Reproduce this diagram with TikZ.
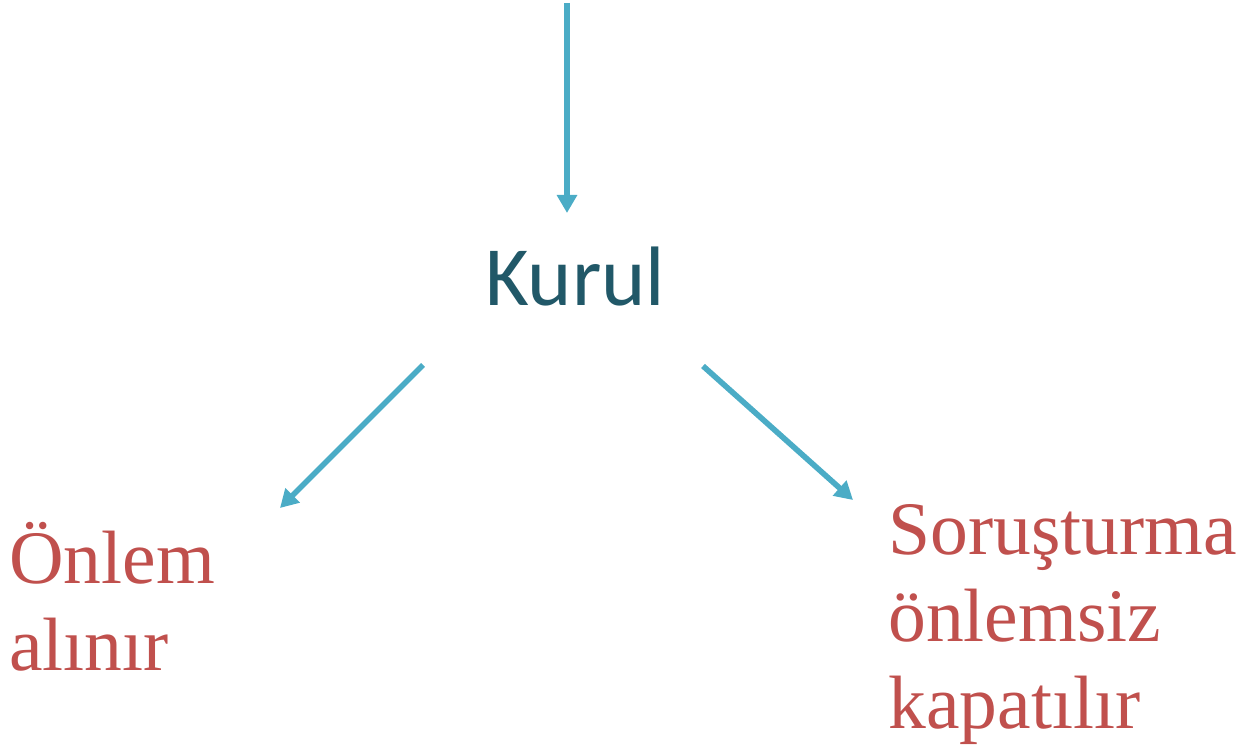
\documentclass[tikz,border=0pt]{standalone}
\usepackage{fontspec}
\setmainfont{Liberation Serif}
\newfontfamily\calfont{Carlito}
\usetikzlibrary{arrows.meta}
\definecolor{arrowblue}{HTML}{4BACC6}
\definecolor{darkteal}{HTML}{215868}
\definecolor{textred}{HTML}{C0504D}
\tikzset{
  flow/.style={arrowblue,line width=3.2pt,-{Triangle[length=3.6mm,width=3.9mm]}},
  outcome/.style={textred,inner sep=0pt,anchor=base west,align=left,
    font=\fontsize{43}{49.5}\selectfont}
}
\begin{document}
\begin{tikzpicture}
\useasboundingbox (0,0) rectangle (24.82,15);
% base anchor = baseline of the last line
\node [darkteal,inner sep=0pt,anchor=base west,font=\calfont\fontsize{48}{57}\selectfont] (kurul) at (9.70,8.88) {Kurul};
\node [outcome] (onlem) at (0.18,1.60) {Önlem\\alınır};
\node [outcome] (sorusturma) at (17.76,0.44) {Soruşturma\\önlemsiz\\kapatılır};
\coordinate (in) at (11.34,14.94);
\coordinate (kurultop) at (11.34,10.74);
\coordinate (leftstart) at (8.46,7.70);
\coordinate (lefttip) at (5.60,4.84);
\coordinate (rightstart) at (14.06,7.68);
\coordinate (righttip) at (17.06,5.00);
\draw [flow] (in) -- (kurultop);
\draw [flow] (leftstart) -- (lefttip);
\draw [flow] (rightstart) -- (righttip);
\end{tikzpicture}
\end{document}
